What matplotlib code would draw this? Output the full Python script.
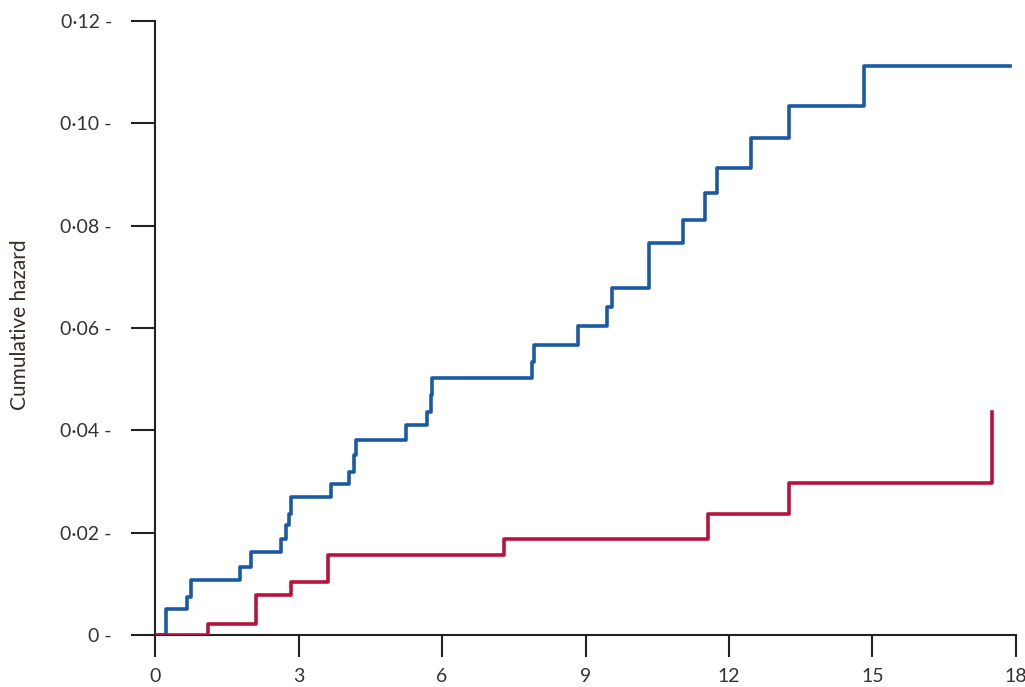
import matplotlib
matplotlib.use("Agg")
import matplotlib.pyplot as plt

# Data
blue_t = [0, 0.24, 0.66, 0.75, 1.77, 2.01, 2.64, 2.74, 2.81, 2.85, 3.68, 4.06, 4.17, 4.20,
          5.24, 5.69, 5.76, 5.80, 7.88, 7.92, 8.85, 9.44, 9.55, 10.33, 11.04, 11.49, 11.74,
          12.47, 13.26, 14.83, 17.88]
blue_v = [0, 0.0051, 0.0074, 0.0107, 0.0133, 0.0162, 0.0188, 0.0215, 0.0237, 0.0270, 0.0296,
          0.0319, 0.0352, 0.0381, 0.0410, 0.0436, 0.0469, 0.0502, 0.0533, 0.0567, 0.0603,
          0.0642, 0.0678, 0.0766, 0.0812, 0.0864, 0.0913, 0.0971, 0.1033, 0.1112, 0.1112]
red_t = [0, 1.11, 2.12, 2.85, 3.61, 7.29, 11.56, 13.26, 17.50]
red_v = [0, 0.0022, 0.0078, 0.0104, 0.0156, 0.0187, 0.0236, 0.0298, 0.0436]

x_ticks = [0, 3, 6, 9, 12, 15, 18]
y_ticks = [0, 0.02, 0.04, 0.06, 0.08, 0.10, 0.12]
y_tick_labels = ["0 -", "0·02 -", "0·04 -", "0·06 -", "0·08 -", "0·10 -", "0·12 -"]

plt.rcParams['font.family'] = ['Lato', 'DejaVu Sans']

fig = plt.figure(figsize=(10.25, 6.87), dpi=100)
ax = fig.add_axes([155/1025, 1-635/687, (1016-155)/1025, (635-21)/687])

ax.step(blue_t, blue_v, where='post', color='#1a5aa3', lw=2.6, zorder=3)
ax.step(red_t, red_v, where='post', color='#b8123e', lw=2.6, zorder=4)

ax.set_xlim(0, 18)
ax.set_ylim(0, 0.12)
ax.set_xticks(x_ticks)
ax.set_xticklabels([str(x) for x in x_ticks], fontsize=14, color='#333333')
ax.set_yticks(y_ticks)
ax.set_yticklabels(y_tick_labels, fontsize=14, color='#333333')

for s in ['top', 'right']:
    ax.spines[s].set_visible(False)
for s in ['left', 'bottom']:
    ax.spines[s].set_linewidth(1.5)
    ax.spines[s].set_color('#222222')

ax.tick_params(axis='y', direction='out', length=17, width=1.5, color='#222222', pad=14)
ax.tick_params(axis='x', direction='out', length=16, width=1.5, color='#222222', pad=8)

fig.text(20/1025, 1-325/687, "Cumulative hazard", rotation=90, ha='center', va='center',
         fontsize=15, color='#3a2a20')

fig.savefig("out.png", dpi=100)
